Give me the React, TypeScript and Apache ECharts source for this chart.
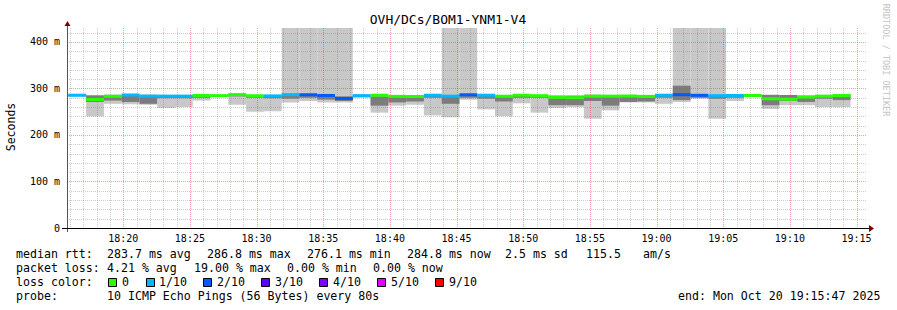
import React, { useEffect, useRef } from "react";
import * as echarts from "echarts";

// ---- time window (local time) ----
const DAY = [2025, 9, 20] as const;
const at = (h: number, m: number, s = 0) => new Date(DAY[0], DAY[1], DAY[2], h, m, s).getTime();
const WINDOW_START = at(18, 15, 47);
const WINDOW_END = at(19, 15, 47);
const FIRST_STEP = at(18, 15, 53);
const STEP_MS = 80 * 1000;

// ---- per-step values (ms) ----
const median = [
  285.5, 276.3, 283.2, 286.0, 283.6, 283.6, 283.6, 285.0, 284.5, 286.8, 284.5,
  284.0, 286.7, 286.5, 285.0, 278.5, 284.5, 285.5, 283.0, 282.7, 285.5, 283.5,
  286.4, 285.5, 283.3, 285.5, 284.5, 281.0, 280.2, 283.5, 283.5, 283.8, 283.0,
  285.5, 286.6, 285.3, 284.5, 285.0, 285.0, 277.8, 277.0, 281.5, 283.5, 284.8,
];
const lossTenths = [
  1, 0, 0, 1, 1, 1, 1, 0, 0, 0, 0, 1, 1, 2, 2, 2, 1, 0, 0, 0, 1, 1, 2, 1, 0, 0, 0,
  0, 0, 0, 0, 0, 0, 1, 2, 2, 1, 1, 0, 0, 0, 0, 0, 0,
];
const smokeMin = [
  282, 240, 267, 266, 265, 258, 260, 274, 282, 265, 250, 251, 270, 273, 270, 270,
  280, 248, 263, 265, 242, 238, 276, 255, 240, 268, 248, 258, 260, 235, 253, 270,
  270, 267, 271, 278, 235, 273, 282, 256, 264, 264, 260, 260,
];
const smokeMax = [
  288, 286, 287, 288, 287, 286, 286, 287, 287, 288, 286, 286, 450, 450, 450, 450,
  288, 287, 285, 285, 287, 450, 450, 287, 286, 287, 286, 286, 286, 287, 286, 286,
  285, 287, 450, 450, 450, 287, 287, 287, 286, 286, 286, 288,
];
const smokeInnerLo = [
  284, 271, 274, 271, 267, 279, 279, 280, 283, 283, 280, 279, 278, 280, 276, 273,
  282, 263, 270, 272, 280, 267, 280, 278, 272, 280, 280, 264, 264, 273, 263, 271,
  272, 280, 275, 280, 278, 280, 283, 264, 273, 271, 278, 275,
];
const smokeInnerHi = [
  287, 285, 283, 285, 283, 284, 284, 285, 285, 287, 285, 284, 287, 287, 285, 283,
  286, 283, 283, 283, 285, 283, 286, 285, 283, 285, 285, 281, 284, 283, 283, 284,
  283, 285, 306, 285, 284, 285, 285, 286, 286, 282, 284, 286,
];

// ---- axis ticks / texts ----
const xTickLabels = ["18:20", "18:25", "18:30", "18:35", "18:40", "18:45", "18:50", "18:55", "19:00", "19:05", "19:10", "19:15"];
const yMajorTicks = [100, 200, 300, 400];
const yMinorTicks = [20, 40, 60, 80, 120, 140, 160, 180, 220, 240, 260, 280, 320, 340, 360, 380, 420];
const TITLE = "OVH/DCs/BOM1-YNM1-V4";
const Y_NAME = "Seconds";
const WATERMARK = "RRDTOOL / TOBI OETIKER";
const lossLegendLabels = ["0", "1/10", "2/10", "3/10", "4/10", "5/10", "9/10"];
const lossLegendColors = ["#26ff00", "#00b8ff", "#0059ff", "#5e00ff", "#7e00ff", "#dd00ff", "#ff0000"];
const lossColorByTenths: Record<number, string> = {
  0: "#26ff00", 1: "#00b8ff", 2: "#0059ff", 3: "#5e00ff", 4: "#7e00ff", 5: "#dd00ff", 9: "#ff0000",
};
const rttRow = ["median rtt:", "283.7 ms avg", "286.8 ms max", "276.1 ms min", "284.8 ms now", "2.5 ms sd", "115.5", "am/s"];
const lossRow = ["packet loss:", "4.21 % avg", "19.00 % max", "0.00 % min", "0.00 % now"];
const colorRowLabel = "loss color:";
const probeRow = ["probe:", "10 ICMP Echo Pings (56 Bytes) every 80s"];
const endText = "end: Mon Oct 20 19:15:47 2025";

// ---- layout ----
const W = 897;
const H = 310;
const MONO = "DejaVu Sans Mono";
const rttX = [16, 107, 207, 307, 407, 505, 586, 643];
const lossX = [16, 107, 194, 287, 373];
const boxX = [108, 146, 203, 261, 319, 377, 435];
const boxLabelX = [122, 159, 217, 275, 333, 391, 449];
const probeX = [16, 107];
const endX = 678;
const MAJOR_COLOR = "rgba(222,48,48,0.45)";
const MINOR_COLOR = "rgba(120,120,120,0.38)";

function buildRects(lo: number[], hi: number[]) {
  return lo.map((v, k) => [FIRST_STEP + k * STEP_MS, FIRST_STEP + (k + 1) * STEP_MS, v, hi[k]]);
}

function rectRenderer(fill: string) {
  return (params: any, api: any) => {
    const p0 = api.coord([api.value(0), api.value(2)]);
    const p1 = api.coord([api.value(1), api.value(3)]);
    const cs = params.coordSys;
    const top = Math.max(p1[1], cs.y);
    const bottom = Math.min(p0[1], cs.y + cs.height);
    return {
      type: "rect",
      shape: { x: p0[0], y: top, width: p1[0] - p0[0], height: Math.max(0, bottom - top) },
      style: { fill },
    };
  };
}

// minute grid positions (axis ticks, one per minute inside the window)
const minuteTicks: number[] = [];
for (let t = Math.ceil(WINDOW_START / 60000) * 60000; t < WINDOW_END; t += 60000) minuteTicks.push(t);

const labelTime = (s: string) => {
  const [h, m] = s.split(":").map(Number);
  return at(h, m);
};

export default function App() {
  const ref = useRef<HTMLDivElement>(null);
  useEffect(() => {
    if (!ref.current) return;
    const chart = echarts.init(ref.current, null, { renderer: "svg", width: W, height: H });

    const medianData = median.map((v, k) => [FIRST_STEP + k * STEP_MS, FIRST_STEP + (k + 1) * STEP_MS, v, lossTenths[k]]);

    const txt = (text: string, x: number, y: number) => ({
      type: "text",
      x,
      y,
      z: 20,
      style: { text, fill: "#000", font: `11.6px '${MONO}'`, verticalAlign: "middle" },
    });

    const graphics: any[] = [];
    graphics.push({
      type: "text", x: 448, y: 19, z: 20,
      style: { text: TITLE, fill: "#000", font: `13px '${MONO}'`, align: "center", verticalAlign: "middle" },
    });
    graphics.push({
      type: "text", x: 11, y: 127, rotation: Math.PI / 2, z: 20,
      style: { text: Y_NAME, fill: "#000", font: `11.5px '${MONO}'`, align: "center", verticalAlign: "middle" },
    });
    graphics.push({
      type: "text", x: 886, y: 60, rotation: -Math.PI / 2, z: 20,
      style: { text: WATERMARK, fill: "#c4c4c4", font: `8.5px '${MONO}'`, align: "center", verticalAlign: "middle" },
    });
    graphics.push({ type: "line", z: 15, shape: { x1: 67.5, y1: 232, x2: 67.5, y2: 25 }, style: { stroke: "#555", lineWidth: 1 } });
    graphics.push({ type: "line", z: 15, shape: { x1: 62, y1: 228.5, x2: 870, y2: 228.5 }, style: { stroke: "#000", lineWidth: 1 } });
    graphics.push({ type: "polygon", z: 16, shape: { points: [[869, 225], [874, 228.5], [869, 232]] }, style: { fill: "#7f0000" } });
    graphics.push({ type: "polygon", z: 16, shape: { points: [[64.5, 26], [67.5, 21], [70.5, 26]] }, style: { fill: "#7f0000" } });

    rttRow.forEach((t, i) => graphics.push(txt(t, rttX[i], 254)));
    lossRow.forEach((t, i) => graphics.push(txt(t, lossX[i], 268)));
    graphics.push(txt(colorRowLabel, 16, 282));
    lossLegendLabels.forEach((t, i) => {
      graphics.push({
        type: "rect", z: 20,
        shape: { x: boxX[i] + 0.5, y: 278.5, width: 8, height: 8 },
        style: { fill: lossLegendColors[i], stroke: "#000", lineWidth: 1 },
      });
      graphics.push(txt(t, boxLabelX[i], 282));
    });
    probeRow.forEach((t, i) => graphics.push(txt(t, probeX[i], 296)));
    graphics.push(txt(endText, endX, 296));

    const vGridData = minuteTicks.map((t) => [t, 0, new Date(t).getMinutes() % 5 === 0 ? 1 : 0]);
    const hGridData = [
      ...yMinorTicks.map((v) => [WINDOW_START, v, 0]),
      ...yMajorTicks.map((v) => [WINDOW_START, v, 1]),
    ];

    chart.setOption({
      animation: false,
      backgroundColor: "#fff",
      grid: { left: 67, top: 28, width: 800, height: 200, containLabel: false },
      xAxis: {
        type: "time",
        min: WINDOW_START,
        max: WINDOW_END,
        axisLine: { show: false },
        axisTick: { show: false },
        splitLine: { show: false },
        axisLabel: { show: false },
      },
      yAxis: {
        type: "value",
        min: 0,
        max: 430,
        interval: 100,
        axisLine: { show: false },
        axisTick: { show: false },
        splitLine: { show: false },
        axisLabel: {
          formatter: (v: number) => (v === 0 ? "0" : `${v} m`),
          fontFamily: MONO,
          fontSize: 10,
          color: "#000",
          margin: 7,
          showMaxLabel: false,
        },
      },
      series: [
        {
          type: "custom", name: "smoke", z: 1, clip: true,
          encode: { x: [0, 1], y: [2, 3] },
          renderItem: rectRenderer("#c8c8c8"),
          data: buildRects(smokeMin, smokeMax),
        },
        {
          type: "custom", name: "smoke inner", z: 1, clip: true,
          encode: { x: [0, 1], y: [2, 3] },
          renderItem: rectRenderer("#7c7c7c"),
          data: buildRects(smokeInnerLo, smokeInnerHi),
        },
        {
          type: "custom", name: "vertical grid", z: 3, silent: true,
          encode: { x: 0, y: 1 },
          renderItem: (params: any, api: any) => {
            const cs = params.coordSys;
            const x = Math.round(api.coord([api.value(0), 0])[0]) + 0.5;
            const major = api.value(2) === 1;
            return {
              type: "line", z2: major ? 1 : 0,
              shape: { x1: x, y1: cs.y, x2: x, y2: cs.y + cs.height },
              style: { stroke: major ? MAJOR_COLOR : MINOR_COLOR, lineWidth: 1, lineDash: [1, 1] },
            };
          },
          data: vGridData,
        },
        {
          type: "custom", name: "horizontal grid", z: 3, silent: true,
          encode: { x: 0, y: 1 },
          renderItem: (params: any, api: any) => {
            const cs = params.coordSys;
            const y = Math.round(api.coord([api.value(0), api.value(1)])[1]) + 0.5;
            const major = api.value(2) === 1;
            return {
              type: "line", z2: major ? 1 : 0,
              shape: { x1: cs.x, y1: y, x2: cs.x + cs.width, y2: y },
              style: { stroke: major ? MAJOR_COLOR : MINOR_COLOR, lineWidth: 1, lineDash: [1, 1] },
            };
          },
          data: hGridData,
        },
        {
          type: "custom", name: "median rtt", z: 10, clip: true,
          encode: { x: [0, 1], y: 2 },
          renderItem: (params: any, api: any) => {
            const p0 = api.coord([api.value(0), api.value(2)]);
            const p1 = api.coord([api.value(1), api.value(2)]);
            const loss = api.value(3);
            return {
              type: "rect",
              shape: { x: p0[0], y: p0[1] - 1.5, width: p1[0] - p0[0], height: 3 },
              style: { fill: lossColorByTenths[loss] || "#26ff00" },
            };
          },
          data: medianData,
        },
        {
          type: "custom", name: "time labels", z: 20, clip: false, silent: true,
          encode: { x: 0, y: 1 },
          renderItem: (params: any, api: any) => {
            const cs = params.coordSys;
            const x = api.coord([api.value(0), 0])[0];
            return {
              type: "text",
              x,
              y: cs.y + cs.height + 10,
              style: {
                text: xTickLabels[params.dataIndex],
                fill: "#000",
                font: `10px '${MONO}'`,
                align: "center",
                verticalAlign: "middle",
              },
            };
          },
          data: xTickLabels.map((s) => [labelTime(s), 0]),
        },
      ],
      graphic: graphics,
    });
    return () => chart.dispose();
  }, []);

  return (
    <div
      ref={ref}
      style={{ position: "fixed", left: 0, top: 0, width: W, height: H, background: "#fff" }}
    />
  );
}
